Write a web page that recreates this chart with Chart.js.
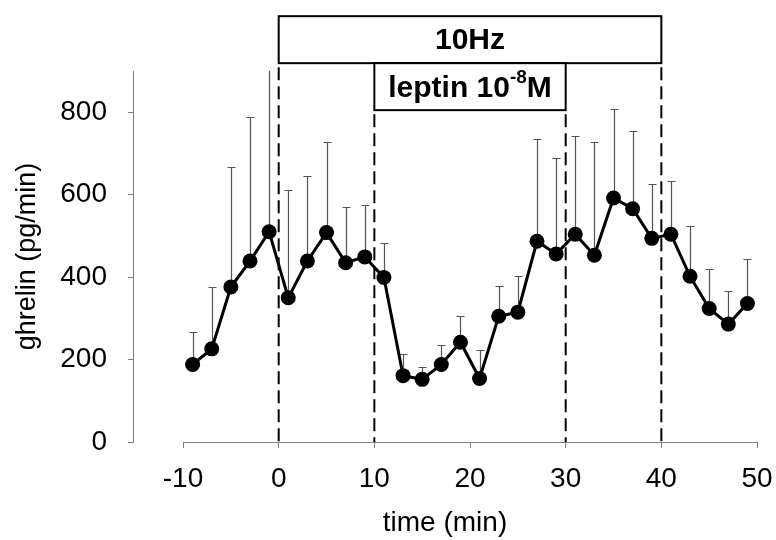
<!DOCTYPE html>
<html>
<head>
<meta charset="utf-8">
<script src="https://cdn.jsdelivr.net/npm/chart.js@4.4.1/dist/chart.umd.min.js"></script>
<style>
  body { margin: 0; background: #fff; }
  canvas { display: block; }
</style>
</head>
<body>
<canvas id="ghrelin-chart" width="776" height="540"></canvas>
<script>
// time points (min) and ghrelin release, mean and upper error (SEM)
var times = [-9, -7, -5, -3, -1, 1, 3, 5, 7, 9, 11, 13, 15, 17, 19, 21, 23, 25, 27, 29, 31, 33, 35, 37, 39, 41, 43, 45, 47, 49];
var ghrelin = [188, 226, 376, 439, 510, 350, 439, 508, 435, 449, 399, 161, 152, 188, 242, 154, 305, 315, 487, 456, 504, 453, 592, 566, 494, 504, 402, 324, 286, 336];
var sem = [79, 150, 291, 349, 420, 262, 206, 219, 134, 126, 83, 52, 31, 47, 63, 69, 73, 87, 247, 234, 238, 274, 216, 189, 133, 130, 122, 95, 81, 108];

var xTicks = [-10, 0, 10, 20, 30, 40, 50];
var yTicks = [0, 200, 400, 600, 800];

// stimulation periods (min)
var stimStart = 0, stimEnd = 40;
var leptinStart = 10, leptinEnd = 30;

var font = '"Liberation Sans", Arial, sans-serif';
var grey = '#808080';

var extras = {
  id: 'extras',
  beforeDatasetsDraw: function(chart) {
    var ctx = chart.ctx, x = chart.scales.x, y = chart.scales.y, area = chart.chartArea;
    ctx.save();
    // x axis line only spans the tick range
    ctx.strokeStyle = grey;
    ctx.lineWidth = 1;
    ctx.beginPath();
    ctx.moveTo(x.getPixelForValue(xTicks[0]), area.bottom + 0.5);
    ctx.lineTo(x.getPixelForValue(xTicks[xTicks.length - 1]), area.bottom + 0.5);
    ctx.stroke();

    // error bars (upper only)
    ctx.beginPath();
    ctx.rect(area.left, area.top, area.right - area.left, area.bottom - area.top);
    ctx.clip();
    ctx.strokeStyle = '#555';
    ctx.lineWidth = 1.2;
    for (var i = 0; i < times.length; i++) {
      var px = Math.round(x.getPixelForValue(times[i])) + 0.5;
      var py0 = y.getPixelForValue(ghrelin[i]);
      var py1 = Math.round(y.getPixelForValue(ghrelin[i] + sem[i])) + 0.5;
      ctx.beginPath();
      ctx.moveTo(px, py0);
      ctx.lineTo(px, py1);
      ctx.moveTo(px - 4, py1);
      ctx.lineTo(px + 4, py1);
      ctx.stroke();
    }
    ctx.restore();

    // dashed period markers
    ctx.save();
    ctx.strokeStyle = '#000';
    ctx.lineWidth = 2;
    ctx.setLineDash([13, 6]);
    [[stimStart, 919], [stimEnd, 919], [leptinStart, 805], [leptinEnd, 805]].forEach(function(d) {
      var px = x.getPixelForValue(d[0]);
      ctx.beginPath();
      ctx.moveTo(px, y.getPixelForValue(d[1]) + 4);
      ctx.lineTo(px, area.bottom);
      ctx.stroke();
    });
    ctx.restore();
  },
  afterDraw: function(chart) {
    var ctx = chart.ctx, x = chart.scales.x, y = chart.scales.y;
    ctx.save();
    ctx.strokeStyle = '#000';
    ctx.lineWidth = 2;
    ctx.fillStyle = '#fff';

    // 10Hz box
    var l = x.getPixelForValue(stimStart), r = x.getPixelForValue(stimEnd);
    var t = y.getPixelForValue(1033), b = y.getPixelForValue(919);
    ctx.fillRect(l, t, r - l, b - t);
    ctx.strokeRect(l, t, r - l, b - t);
    ctx.fillStyle = '#000';
    ctx.font = 'bold 30px ' + font;
    ctx.textAlign = 'center';
    ctx.textBaseline = 'middle';
    ctx.fillText('10Hz', (l + r) / 2, (t + b) / 2 + 1);

    // leptin box
    l = x.getPixelForValue(leptinStart); r = x.getPixelForValue(leptinEnd);
    t = b; b = y.getPixelForValue(805);
    ctx.fillStyle = '#fff';
    ctx.fillRect(l, t, r - l, b - t);
    ctx.strokeRect(l, t, r - l, b - t);
    ctx.fillStyle = '#000';
    var main = 'leptin 10', sup = '-8', tail = 'M';
    ctx.font = 'bold 30px ' + font;
    var w1 = ctx.measureText(main).width, w3 = ctx.measureText(tail).width;
    ctx.font = 'bold 19px ' + font;
    var w2 = ctx.measureText(sup).width;
    var sx = (l + r) / 2 - (w1 + w2 + w3) / 2, cy = (t + b) / 2 + 2;
    ctx.textAlign = 'left';
    ctx.font = 'bold 30px ' + font;
    ctx.fillText(main, sx, cy);
    ctx.font = 'bold 19px ' + font;
    ctx.fillText(sup, sx + w1, cy - 11);
    ctx.font = 'bold 30px ' + font;
    ctx.fillText(tail, sx + w1 + w2, cy);
    ctx.restore();
  }
};

var ctx = document.getElementById('ghrelin-chart').getContext('2d');
var myChart = new Chart(ctx, {
  type: 'line',
  data: {
    datasets: [{
      label: 'ghrelin',
      data: times.map(function(t, i) { return { x: t, y: ghrelin[i] }; }),
      borderColor: '#000',
      borderWidth: 3,
      backgroundColor: '#000',
      pointRadius: 7.5,
      pointBackgroundColor: '#000',
      pointBorderWidth: 0,
      tension: 0
    }]
  },
  options: {
    responsive: false,
    animation: false,
    layout: { padding: { top: 71, right: 19, left: 0, bottom: 0 } },
    plugins: { legend: { display: false }, tooltip: { enabled: false } },
    scales: {
      x: {
        type: 'linear',
        min: -15.23,
        max: 50,
        afterBuildTicks: function(s) { s.ticks = xTicks.map(function(v) { return { value: v }; }); },
        afterFit: function(s) { s.height = 98; s.paddingLeft = 0; s.paddingRight = 0; },
        border: { display: false },
        grid: { drawOnChartArea: false, tickLength: 6, color: grey },
        ticks: { autoSkip: false, maxRotation: 0, padding: 14, color: '#000', font: { family: font, size: 28 } },
        title: { display: true, text: 'time (min)', color: '#000', font: { family: font, size: 28 }, padding: { top: 0, bottom: 0 } }
      },
      y: {
        min: 0,
        max: 900,
        afterBuildTicks: function(s) { s.ticks = yTicks.map(function(v) { return { value: v }; }); },
        afterFit: function(s) { s.width = 133; s.paddingTop = 0; s.paddingBottom = 0; },
        border: { color: grey, width: 1 },
        grid: { drawOnChartArea: false, tickLength: 5, color: grey },
        ticks: { padding: 21, color: '#000', font: { family: font, size: 28 } },
        title: { display: true, text: 'ghrelin (pg/min)', color: '#000', font: { family: font, size: 27 }, padding: { top: 11, bottom: 0 } }
      }
    }
  },
  plugins: [extras]
});
</script>
</body>
</html>
